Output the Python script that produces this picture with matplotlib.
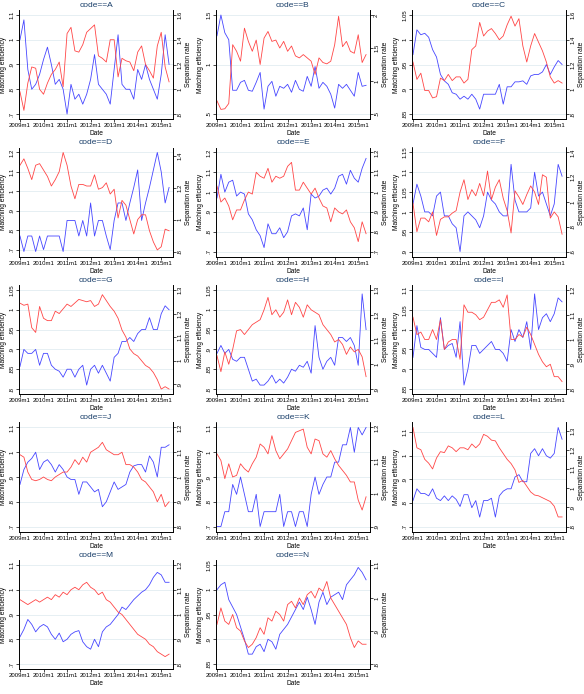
import numpy as np
import matplotlib.pyplot as plt

plt.rcParams['font.family'] = ['Liberation Sans', 'DejaVu Sans']

# months since 2009m1, every second month
months = np.arange(0, 77, 2)
xtick_pos = [0, 12, 24, 36, 48, 60, 72]
xtick_labels = ['2009m1', '2010m1', '2011m1', '2012m1', '2013m1', '2014m1', '2015m1']

codes = ['A', 'B', 'C', 'D', 'E', 'F', 'G', 'H', 'I', 'J', 'K', 'L', 'M', 'N']

# matching efficiency (left axis, blue) and separation rate (right axis, red)
me_A = [1.00,1.08,0.88,0.80,0.82,0.86,0.92,0.97,0.90,0.82,0.84,0.80,0.70,0.82,0.76,0.78,0.74,0.78,0.84,0.94,0.82,0.80,0.78,0.74,0.88,1.02,0.82,0.80,0.80,0.76,0.88,0.84,0.90,0.84,0.80,0.76,0.86,1.02,0.90]
sr_A = [0.98,0.83,1.05,1.18,1.17,1.00,0.96,1.05,1.12,1.16,1.22,1.02,1.45,1.50,1.31,1.30,1.36,1.46,1.49,1.52,1.27,1.25,1.22,1.40,1.40,1.10,1.25,1.23,1.22,1.15,1.30,1.35,1.20,1.15,1.09,1.35,1.46,1.18,1.06]
me_B = [1.29,1.50,1.32,1.25,0.74,0.74,0.82,0.84,0.74,0.73,0.82,0.92,0.55,0.78,0.83,0.68,0.78,0.76,0.80,0.72,0.84,0.75,0.73,0.88,0.78,0.98,0.76,0.82,0.78,0.70,0.56,0.80,0.76,0.80,0.74,0.68,0.92,0.78,0.79]
sr_B = [0.70,0.57,0.58,0.66,1.55,1.45,1.30,1.80,1.60,1.45,1.62,1.25,1.65,1.75,1.60,1.62,1.50,1.60,1.45,1.53,1.38,1.35,1.40,1.35,1.30,1.10,1.35,1.28,1.26,1.30,1.55,1.98,1.52,1.60,1.45,1.42,1.70,1.28,1.40]
me_C = [0.97,1.02,1.01,1.013,1.005,0.98,0.965,0.93,0.917,0.91,0.893,0.89,0.88,0.886,0.88,0.89,0.88,0.86,0.89,0.89,0.89,0.89,0.91,0.87,0.905,0.905,0.915,0.915,0.917,0.91,0.927,0.93,0.93,0.935,0.95,0.93,0.945,0.958,0.95]
sr_C = [1.22,1.08,1.13,0.99,0.99,0.93,0.94,1.09,1.07,1.12,1.07,1.10,1.10,1.05,1.08,1.32,1.35,1.54,1.43,1.47,1.49,1.45,1.40,1.43,1.52,1.59,1.51,1.57,1.35,1.22,1.35,1.45,1.38,1.31,1.22,1.10,1.05,1.07,1.05]
me_D = [0.77,0.69,0.77,0.77,0.69,0.77,0.70,0.77,0.77,0.77,0.77,0.69,0.85,0.85,0.85,0.77,0.85,0.77,0.94,0.77,0.85,0.85,0.77,0.70,0.85,0.94,0.94,0.85,0.94,1.02,1.11,0.85,0.94,1.02,1.11,1.20,1.10,0.94,1.02]
sr_D = [1.34,1.38,1.32,1.25,1.34,1.35,1.31,1.27,1.21,1.25,1.30,1.42,1.34,1.21,1.13,1.22,1.22,1.21,1.21,1.28,1.19,1.20,1.23,1.16,1.19,1.01,1.12,1.09,1.00,0.91,1.00,1.03,1.03,0.93,0.86,0.81,0.83,0.94,0.93]
me_E = [0.97,1.09,1.00,1.05,1.06,0.98,1.00,0.99,0.89,0.86,0.81,0.78,0.72,0.84,0.79,0.79,0.82,0.77,0.80,0.88,0.89,0.88,0.92,0.81,0.99,0.97,0.98,1.01,1.02,0.99,1.02,1.08,1.09,1.04,1.11,1.07,1.05,1.12,1.17]
sr_E = [1.03,0.95,0.97,0.93,0.86,0.91,0.91,0.96,1.00,0.99,1.10,1.08,1.07,1.12,1.05,1.08,1.07,1.08,1.13,1.15,1.01,1.01,1.05,1.02,0.99,1.02,0.97,0.93,0.92,0.85,0.92,0.90,0.89,0.91,0.85,0.82,0.75,0.85,0.79]
me_F = [1.02,1.07,1.04,1.00,1.00,0.99,1.04,1.05,0.99,0.99,0.97,0.96,0.90,0.99,1.00,0.99,0.98,0.96,0.99,1.05,1.03,1.02,1.00,0.99,0.99,1.12,1.03,1.00,1.00,1.00,1.01,1.10,1.04,1.05,1.02,0.99,1.02,1.12,1.09]
sr_F = [0.99,0.76,0.87,0.87,0.84,0.92,0.73,0.86,0.88,0.88,0.91,0.93,1.08,1.18,1.02,1.10,1.05,1.15,1.05,1.25,1.02,1.12,1.18,1.03,0.93,0.75,1.09,1.04,0.98,1.06,1.13,1.08,0.98,1.22,1.20,0.87,0.92,0.88,0.74]
me_G = [0.857,0.90,0.89,0.89,0.90,0.86,0.89,0.89,0.86,0.85,0.845,0.83,0.85,0.85,0.83,0.85,0.86,0.81,0.85,0.86,0.84,0.86,0.84,0.82,0.88,0.89,0.92,0.92,0.93,0.92,0.94,0.95,0.95,0.98,0.95,0.95,0.99,1.01,1.00]
sr_G = [1.244,1.235,1.24,1.14,1.12,1.23,1.18,1.17,1.17,1.21,1.20,1.22,1.24,1.23,1.245,1.26,1.255,1.25,1.255,1.23,1.24,1.28,1.255,1.23,1.21,1.18,1.13,1.10,1.05,1.03,1.02,1.00,0.98,0.97,0.95,0.92,0.88,0.89,0.88]
me_H = [0.89,0.91,0.89,0.90,0.875,0.87,0.88,0.88,0.85,0.82,0.825,0.81,0.81,0.82,0.835,0.815,0.825,0.815,0.83,0.85,0.845,0.86,0.855,0.87,0.84,0.96,0.88,0.85,0.87,0.88,0.86,0.93,0.93,0.92,0.93,0.91,0.86,1.04,0.95]
sr_H = [1.035,0.97,1.05,1.00,1.06,1.135,1.14,1.12,1.14,1.16,1.17,1.18,1.22,1.27,1.20,1.22,1.19,1.21,1.26,1.20,1.25,1.23,1.19,1.24,1.22,1.21,1.20,1.16,1.14,1.12,1.09,1.10,1.08,1.04,1.07,1.05,1.06,1.03,0.95]
me_I = [0.93,1.01,0.955,0.95,0.95,0.94,0.93,1.03,0.95,0.96,0.965,0.93,1.02,0.86,0.90,0.96,0.96,0.94,0.95,0.96,0.97,0.95,0.95,0.94,0.92,1.00,0.97,1.00,0.98,1.02,0.95,1.09,1.00,1.03,1.04,1.02,1.04,1.08,1.07]
sr_I = [1.09,1.02,1.03,1.00,1.00,1.04,1.00,1.08,0.96,0.99,1.00,1.00,0.92,1.14,1.11,1.11,1.10,1.08,1.09,1.12,1.15,1.15,1.16,1.13,1.18,1.00,1.00,1.02,1.01,1.05,1.02,0.98,0.94,0.91,0.89,0.90,0.85,0.85,0.83]
me_J = [0.87,0.93,0.96,0.975,1.00,0.93,0.96,0.97,0.95,0.92,0.95,0.93,0.90,0.89,0.89,0.83,0.88,0.88,0.86,0.84,0.85,0.78,0.80,0.84,0.88,0.85,0.86,0.87,0.92,0.945,0.95,0.95,0.92,0.985,0.96,0.90,1.02,1.02,1.03]
sr_J = [1.09,1.08,1.02,0.99,0.985,0.99,1.00,0.99,0.985,1.00,1.01,1.02,1.02,1.04,1.07,1.05,1.08,1.06,1.10,1.11,1.12,1.14,1.11,1.10,1.09,1.09,1.10,1.05,1.05,1.04,1.02,0.99,0.98,0.96,0.94,0.90,0.93,0.88,0.90]
me_K = [0.70,0.70,0.76,0.76,0.87,0.83,0.90,0.83,0.76,0.76,0.83,0.70,0.76,0.76,0.76,0.76,0.83,0.70,0.76,0.76,0.70,0.76,0.76,0.70,0.83,0.90,0.83,0.87,0.90,0.90,0.96,0.96,1.03,1.03,1.10,1.00,1.10,1.07,1.10]
sr_K = [1.12,1.10,1.045,1.09,1.05,1.055,1.09,1.075,1.065,1.09,1.11,1.15,1.14,1.12,1.175,1.13,1.105,1.12,1.135,1.16,1.185,1.19,1.195,1.14,1.12,1.165,1.16,1.12,1.11,1.13,1.105,1.085,1.07,1.055,1.035,1.035,0.98,0.95,0.99]
me_L = [0.81,0.86,0.84,0.84,0.83,0.86,0.82,0.81,0.83,0.81,0.83,0.815,0.785,0.835,0.835,0.78,0.81,0.74,0.81,0.81,0.82,0.74,0.83,0.85,0.86,0.86,0.91,0.92,0.89,0.89,1.01,1.03,1.00,1.03,1.00,0.99,1.01,1.12,1.07]
sr_L = [1.316,1.21,1.20,1.15,1.13,1.10,1.157,1.19,1.185,1.22,1.21,1.19,1.21,1.21,1.20,1.23,1.21,1.23,1.28,1.27,1.25,1.246,1.21,1.18,1.15,1.128,1.095,1.03,1.04,1.01,0.98,0.964,0.96,0.95,0.94,0.93,0.906,0.85,0.85]
me_M = [0.81,0.84,0.88,0.86,0.83,0.85,0.86,0.85,0.82,0.80,0.825,0.79,0.80,0.82,0.83,0.835,0.79,0.77,0.76,0.80,0.77,0.83,0.85,0.86,0.88,0.90,0.93,0.92,0.94,0.96,0.975,0.99,1.00,1.02,1.05,1.07,1.06,1.03,1.03]
sr_M = [1.06,1.05,1.04,1.05,1.06,1.05,1.06,1.07,1.06,1.08,1.07,1.09,1.08,1.10,1.11,1.10,1.12,1.13,1.11,1.10,1.08,1.09,1.06,1.05,1.03,1.01,1.00,0.98,0.96,0.94,0.92,0.91,0.90,0.88,0.87,0.85,0.84,0.83,0.84]
me_N = [1.00,1.01,1.015,0.98,0.965,0.95,0.925,0.90,0.87,0.87,0.885,0.89,0.875,0.90,0.895,0.88,0.91,0.92,0.93,0.945,0.96,0.975,0.96,0.985,0.96,0.93,0.975,0.995,0.97,0.985,0.99,0.995,0.98,1.01,1.02,1.03,1.045,1.035,1.02]
sr_N = [0.92,0.97,0.93,0.92,0.95,0.91,0.90,0.87,0.85,0.86,0.88,0.91,0.89,0.94,0.93,0.96,0.95,0.93,0.98,0.99,0.97,1.00,0.98,1.01,1.02,1.00,1.03,1.02,1.05,1.00,0.98,0.96,0.94,0.92,0.88,0.85,0.87,0.86,0.86]

# axis labels per panel (left, right)
lt = {
    'A': [.7, .8, .9, 1, 1.1], 'B': [.5, 1, 1.5], 'C': [.85, .9, .95, 1, 1.05],
    'D': [.7, .8, .9, 1, 1.1, 1.2], 'E': [.7, .8, .9, 1, 1.1, 1.2], 'F': [.9, .95, 1, 1.05, 1.1, 1.15],
    'G': [.8, .85, .9, .95, 1, 1.05], 'H': [.8, .85, .9, .95, 1, 1.05], 'I': [.85, .9, .95, 1, 1.05, 1.1],
    'J': [.7, .8, .9, 1, 1.1], 'K': [.7, .8, .9, 1, 1.1], 'L': [.7, .8, .9, 1, 1.1],
    'M': [.7, .8, .9, 1, 1.1], 'N': [.85, .9, .95, 1, 1.05],
}
rt = {
    'A': [.8, 1, 1.2, 1.4, 1.6], 'B': [.5, 1, 1.5, 2], 'C': [.8, 1, 1.2, 1.4, 1.6],
    'D': [.8, 1, 1.2, 1.4], 'E': [.7, .8, .9, 1, 1.1, 1.2], 'F': [.6, .8, 1, 1.2, 1.4],
    'G': [.9, 1, 1.1, 1.2, 1.3], 'H': [.9, 1, 1.1, 1.2, 1.3], 'I': [.8, .9, 1, 1.1, 1.2],
    'J': [.8, .9, 1, 1.1, 1.2], 'K': [.9, 1, 1.1, 1.2], 'L': [.8, .9, 1, 1.1, 1.2, 1.3],
    'M': [.8, .9, 1, 1.1, 1.2], 'N': [.8, .9, 1, 1.1],
}

me = {c: globals()['me_' + c] for c in codes}
sr = {c: globals()['sr_' + c] for c in codes}


def fmt(v):
    s = f'{v:g}'
    if s.startswith('0.'):
        s = s[1:]
    return s


def lims(ticks, vals):
    lo = min(ticks[0], min(vals))
    hi = max(ticks[-1], max(vals))
    pad = 0.05 * (hi - lo)
    return lo - pad, hi + pad


W, H = 584, 694
fig = plt.figure(figsize=(W / 100, H / 100), dpi=100)
lefts = [19, 216, 412]

for i, c in enumerate(codes):
    r, col = divmod(i, 3)
    top = r * 137.5 + 10
    ax = fig.add_axes([lefts[col] / W, 1 - (top + 109) / H, 154 / W, 109 / H])
    ax.plot(months, me[c], color='#4646ff', lw=0.6)
    ax.set_xlim(-0.5, 78)
    ax.set_ylim(*lims(lt[c], me[c]))
    ax.set_yticks(lt[c], [fmt(v) for v in lt[c]])
    ax.set_xticks(xtick_pos, xtick_labels)
    ax.yaxis.grid(True, color='#e2edf1', lw=0.6)
    ax.set_axisbelow(True)

    ax2 = ax.twinx()
    ax2.plot(months, sr[c], color='#ff4646', lw=0.6)
    ax2.set_ylim(*lims(rt[c], sr[c]))
    ax2.set_yticks(rt[c], [fmt(v) for v in rt[c]])

    for a in (ax, ax2):
        a.spines['top'].set_visible(False)
        for s in ('left', 'right', 'bottom'):
            a.spines[s].set_linewidth(0.6)
        a.tick_params(labelsize=4.3, length=2, width=0.5, pad=1)
        for lab in a.get_yticklabels():
            lab.set_rotation(90)
            lab.set_va('center')

    ax.set_ylabel('Matching efficiency', fontsize=4.8, labelpad=2)
    ax2.set_ylabel('Separation rate', fontsize=4.8, labelpad=2)
    ax.set_xlabel('Date', fontsize=4.8, labelpad=1.5)
    ax.set_title('code==' + c, fontsize=6, color='#1a3f6a', pad=2.5)

fig.savefig('out.png', dpi=100)
